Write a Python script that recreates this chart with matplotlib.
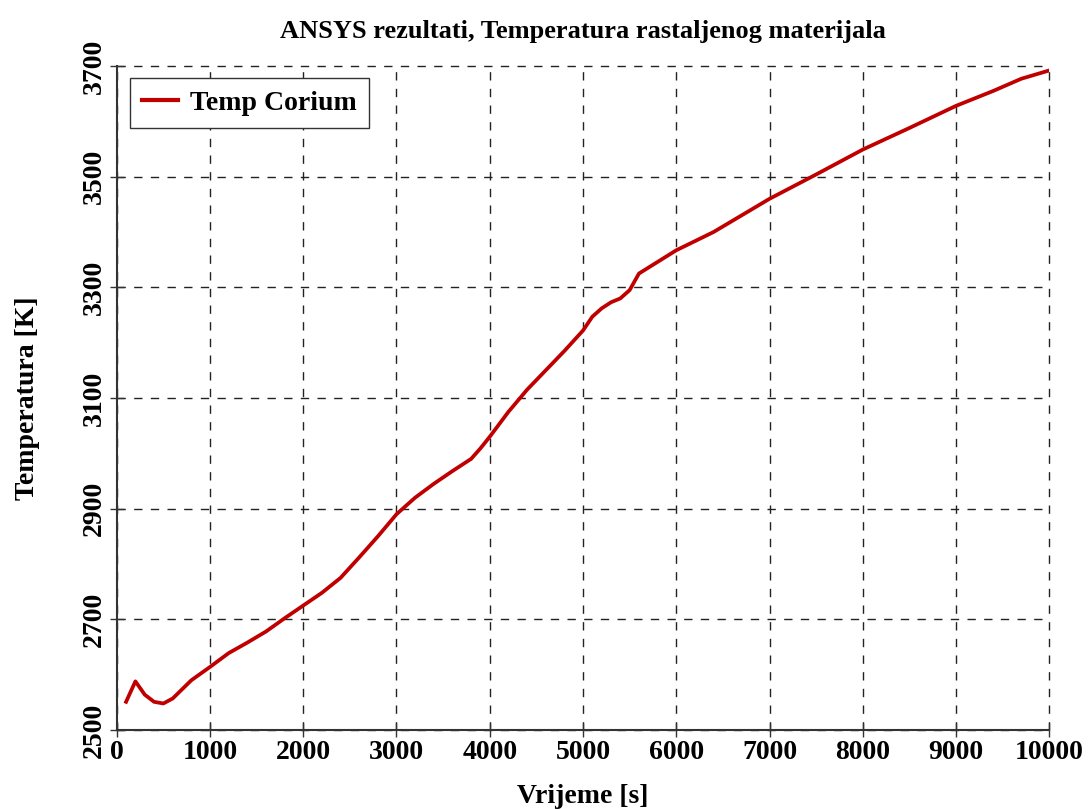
import matplotlib
matplotlib.use("Agg")
import matplotlib.pyplot as plt

time_s = [100, 200, 300, 400, 500, 600, 800, 1000, 1200, 1400, 1600, 1800, 2000,
          2200, 2400, 2600, 2800, 3000, 3200, 3400, 3600, 3800, 3900, 4000, 4200,
          4400, 4600, 4800, 5000, 5100, 5200, 5300, 5400, 5500, 5600, 6000, 6400,
          7000, 7500, 8000, 8500, 8600, 9000, 9400, 9700, 10000]
temp_corium = [2551, 2588, 2564, 2551, 2548, 2557, 2590, 2614, 2639, 2658, 2678, 2702, 2725,
               2748, 2775, 2812, 2850, 2890, 2920, 2945, 2968, 2990, 3009, 3030, 3075,
               3115, 3150, 3185, 3222, 3247, 3262, 3273, 3280, 3295, 3325, 3367, 3400,
               3460, 3504, 3549, 3588, 3596, 3628, 3655, 3677, 3692]
x_ticks = list(range(0, 10001, 1000))
y_ticks = list(range(2500, 3701, 200))

plt.rcParams['font.family'] = ['Liberation Serif', 'DejaVu Serif']
plt.rcParams['font.weight'] = 'bold'

fig = plt.figure(figsize=(10.88, 8.09), dpi=100)
ax = fig.add_axes([0.1073, 0.0976, 0.9644 - 0.1073, 0.9184 - 0.0976])

ax.plot(time_s, temp_corium, color='#C00000', lw=2.7, label='Temp Corium')

ax.set_xlim(0, 10000)
ax.set_ylim(2500, 3700)
ax.set_xticks(x_ticks)
ax.set_yticks(y_ticks)
ax.set_xticklabels([str(v) for v in x_ticks], fontsize=20, fontweight='bold')
ax.set_yticklabels([str(v) for v in y_ticks], fontsize=20, fontweight='bold',
                   rotation=90, va='center')
ax.tick_params(axis='both', direction='inout', length=10, width=1, color='#333333')
ax.tick_params(axis='x', pad=2)
ax.tick_params(axis='y', pad=2)

ax.grid(True, color='#222222', linestyle=(0, (6, 6)), lw=1)
for gl in ax.get_xgridlines() + ax.get_ygridlines():
    gl.set_clip_on(False)
ax.set_axisbelow(True)
for s in ['top', 'right']:
    ax.spines[s].set_visible(False)
for s in ['left', 'bottom']:
    ax.spines[s].set_color('#333333')
    ax.spines[s].set_linewidth(1.5)

ax.set_xlabel('Vrijeme [s]', fontsize=20, fontweight='bold', labelpad=14)
ax.set_ylabel('Temperatura [K]', fontsize=20, fontweight='bold', labelpad=30)
ax.set_title('ANSYS rezultati, Temperatura rastaljenog materijala',
             fontsize=19, fontweight='bold', pad=20)

leg = ax.legend(loc='upper left', bbox_to_anchor=(0.014, 0.982), borderaxespad=0,
                frameon=True, fancybox=False, handlelength=1.3, handletextpad=0.4,
                borderpad=0.45, prop={'weight': 'bold', 'size': 20})
leg.get_frame().set_edgecolor('#333333')
leg.get_frame().set_linewidth(1)
leg.get_frame().set_alpha(1)
for h in leg.get_lines():
    h.set_linewidth(3)

fig.savefig('out.png', dpi=100)
